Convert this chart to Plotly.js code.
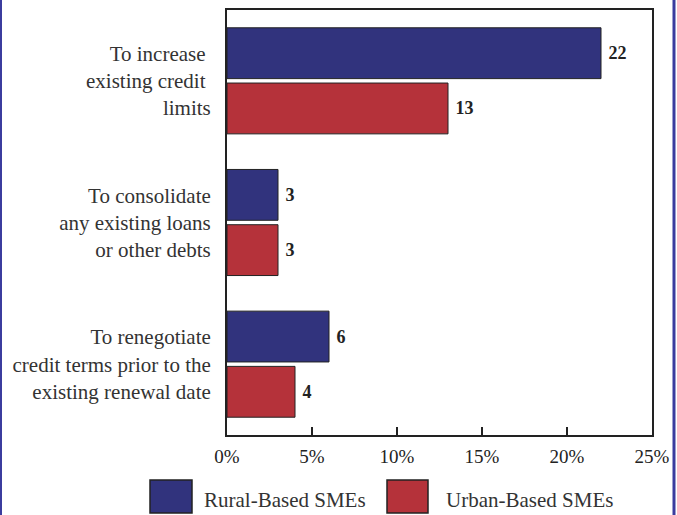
<!DOCTYPE html>
<html>
<head>
<meta charset="utf-8">
<script src="https://cdn.plot.ly/plotly-3.0.1.min.js"></script>
<style>html,body{margin:0;padding:0;background:#fff;}#chart{width:677px;height:515px;}</style>
</head>
<body>
<div id="chart"></div>
<script>
// Data
const categories = [
  "To increase\u00a0<br>existing credit\u00a0<br>limits",
  "To consolidate<br>any existing loans<br>or other debts",
  "To renegotiate<br>credit terms prior to the<br>existing renewal date"
];
const seriesNames = ["Rural-Based SMEs", "Urban-Based SMEs"];
const ruralValues = [22, 3, 6];
const urbanValues = [13, 3, 4];
const xTickValues = [0, 5, 10, 15, 20, 25];
const xTickLabels = ["0%", "5%", "10%", "15%", "20%", "25%"];

const blue = "#31337d";
const red = "#b5323a";
const serif = "Liberation Serif, Times New Roman, serif";

const valueFont = {family: serif, size: 18, color: "#222", weight: "bold"};

const traces = [
  {type: "bar", orientation: "h", name: seriesNames[0], y: categories, x: ruralValues,
   marker: {color: blue, line: {color: "#222", width: 1}},
   texttemplate: "\u00a0<b>%{x}</b>", textposition: "outside", textfont: valueFont,
   cliponaxis: false, hoverinfo: "x+y"},
  {type: "bar", orientation: "h", name: seriesNames[1], y: categories, x: urbanValues,
   marker: {color: red, line: {color: "#222", width: 1}},
   texttemplate: "\u00a0<b>%{x}</b>", textposition: "outside", textfont: valueFont,
   cliponaxis: false, hoverinfo: "x+y"}
];

// plot area in pixels: x 227..652, y 10..435
const L = 227, R = 652, T = 10, B = 435;
const W = R - L, H = B - T;
const px = v => (v - L) / W;
const py = v => (B - v) / H;

const layout = {
  width: 677, height: 515,
  margin: {l: L, r: 677 - R, t: T, b: 515 - B, pad: 0},
  paper_bgcolor: "#fff", plot_bgcolor: "#fff",
  showlegend: false,
  barmode: "group", bargap: 0.22, bargroupgap: 0.08,
  font: {family: serif, color: "#333"},
  xaxis: {
    range: [0, 25], tickvals: xTickValues, ticktext: xTickLabels,
    ticks: "inside", ticklen: 8, tickwidth: 2, tickcolor: "#222",
    showline: true, linewidth: 2, linecolor: "#222", mirror: true,
    showgrid: false, zeroline: false, fixedrange: true,
    tickfont: {family: serif, size: 19, color: "#222"}, ticklabelstandoff: 3
  },
  yaxis: {
    autorange: "reversed", type: "category",
    ticks: "", showline: true, linewidth: 2, linecolor: "#222", mirror: true,
    showgrid: false, zeroline: false, fixedrange: true,
    tickfont: {family: serif, size: 21, color: "#333"}, ticklabelstandoff: 10
  },
  shapes: [
    // legend swatches
    {type: "rect", xref: "paper", yref: "paper", x0: px(150), x1: px(192), y0: py(513), y1: py(480),
     fillcolor: blue, line: {color: "#222", width: 1.5}},
    {type: "rect", xref: "paper", yref: "paper", x0: px(387), x1: px(428), y0: py(513), y1: py(480),
     fillcolor: red, line: {color: "#222", width: 1.5}},
    // outer blue frame lines
    {type: "line", xref: "paper", yref: "paper", x0: px(1), x1: px(1), y0: py(520), y1: py(-5),
     line: {color: "#3b3c9e", width: 2}},
    {type: "line", xref: "paper", yref: "paper", x0: px(674), x1: px(674), y0: py(520), y1: py(-5),
     line: {color: "#3b3c9e", width: 3}}
  ],
  annotations: [
    {xref: "paper", yref: "paper", x: px(203), y: py(500), xanchor: "left", yanchor: "middle",
     text: seriesNames[0], showarrow: false, borderpad: 0, font: {family: serif, size: 21, color: "#333"}},
    {xref: "paper", yref: "paper", x: px(445), y: py(500), xanchor: "left", yanchor: "middle",
     text: seriesNames[1], showarrow: false, borderpad: 0, font: {family: serif, size: 21, color: "#333"}}
  ]
};

Plotly.newPlot("chart", traces, layout, {staticPlot: true, displayModeBar: false});
</script>
</body>
</html>
